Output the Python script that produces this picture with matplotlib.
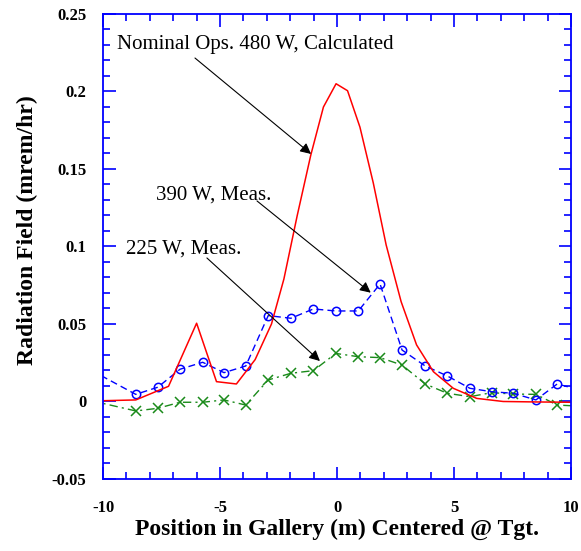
import numpy as np
import matplotlib
matplotlib.use('Agg')
import matplotlib.pyplot as plt
from matplotlib.ticker import MultipleLocator

plt.rcParams['font.family'] = ['Liberation Serif', 'DejaVu Serif']

# calculated 480 W curve
calc_x = [-10, -8.6, -7.2, -6.0, -5.15, -4.3, -3.5, -2.8, -2.27, -1.7, -1.12, -0.58,
          -0.04, 0.45, 0.98, 1.55, 2.1, 2.74, 3.4, 4.12, 4.97, 5.97, 7.1, 8.5, 10]
calc_y = [0.0005, 0.001, 0.0098, 0.0505, 0.0128, 0.0113, 0.027, 0.05, 0.079, 0.12,
          0.159, 0.19, 0.205, 0.2005, 0.177, 0.141, 0.101, 0.0644, 0.0365, 0.0192,
          0.0085, 0.002, 0.0, -0.0003, -0.0005]

# measured positions (m)
meas_x = [-10.5, -8.6, -7.66, -6.71, -5.74, -4.83, -3.9, -2.94, -1.97, -1.01, -0.05,
          0.91, 1.84, 2.78, 3.77, 4.71, 5.68, 6.61, 7.53, 8.5, 9.41, 10.36]
meas390 = [0.0201, 0.0046, 0.0092, 0.0208, 0.0253, 0.0186, 0.0229, 0.0554, 0.0537,
           0.0597, 0.0584, 0.0584, 0.0758, 0.0332, 0.0229, 0.0165, 0.0085, 0.0063,
           0.0053, 0.001, 0.0113, 0.0075]
meas225 = [0.0005, -0.0061, -0.0044, -0.0005, -0.0005, 0.001, -0.0023, 0.0139, 0.0182,
           0.0199, 0.031, 0.0289, 0.0283, 0.0235, 0.0113, 0.0053, 0.0031, 0.0057,
           0.0048, 0.0046, -0.0023, -0.003]

fig = plt.figure(figsize=(5.81, 5.51), dpi=100)
ax = fig.add_axes([0.1773, 0.1307, 0.8055, 0.8439])

ax.plot(meas_x, meas225, color='#1a8a1a', ls='-.', lw=1, marker='x', ms=7,
        mew=1.1, dashes=(6, 3, 1.5, 3))
ax.plot(meas_x, meas390, color='#0000ff', ls='--', lw=1, marker='o', ms=6,
        mfc='none', mew=1.1, dashes=(5, 3))
ax.plot(calc_x, calc_y, color='#ff0000', lw=1.1)

ax.set_xlim(-10, 10)
ax.set_ylim(-0.05, 0.25)
ax.xaxis.set_minor_locator(MultipleLocator(1))
ax.yaxis.set_minor_locator(MultipleLocator(0.01))
ax.set_xticks([-10, -5, 0, 5, 10])
ax.set_xticklabels(['-10', '-5', '0', '5', '10'])
ax.set_yticks([-0.05, 0, 0.05, 0.1, 0.15, 0.2, 0.25])
ax.set_yticklabels(['-0.05', '0', '0.05', '0.1', '0.15', '0.2', '0.25'])

for s in ax.spines.values():
    s.set_color('#0000ff')
    s.set_linewidth(1.3)
ax.tick_params(which='both', direction='in', top=True, right=True, color='#0000ff',
               width=1.2)
ax.tick_params(which='major', length=9)
ax.tick_params(which='minor', length=5)
ax.tick_params(axis='x', pad=15, labelsize=12)
ax.tick_params(axis='y', pad=12, labelsize=12)
for lab in ax.get_xticklabels() + ax.get_yticklabels():
    lab.set_fontweight('bold')

ax.set_xlabel('Position in Gallery (m) Centered @ Tgt.', fontsize=17,
              fontweight='bold', labelpad=2)
ax.set_ylabel('Radiation Field (mrem/hr)', fontsize=17, fontweight='bold')
ax.yaxis.set_label_coords(-0.139, 0.535)

arrow = dict(arrowstyle='-|>', color='black', lw=0.8, mutation_scale=16,
             shrinkA=0, shrinkB=0)
ax.text(-9.40, 0.230, 'Nominal Ops. 480 W, Calculated', fontsize=15,
        ha='left', va='center')
ax.annotate('', xy=(-1.11, 0.1597), xytext=(-6.07, 0.2216), arrowprops=arrow)
ax.text(-7.74, 0.1332, '390 W, Meas.', fontsize=15, ha='left', va='center')
ax.annotate('', xy=(1.44, 0.0702), xytext=(-3.42, 0.1294), arrowprops=arrow)
ax.text(-9.02, 0.0984, '225 W, Meas.', fontsize=15, ha='left', va='center')
ax.annotate('', xy=(-0.73, 0.0261), xytext=(-5.56, 0.0926), arrowprops=arrow)

fig.savefig('out.png', dpi=100)
